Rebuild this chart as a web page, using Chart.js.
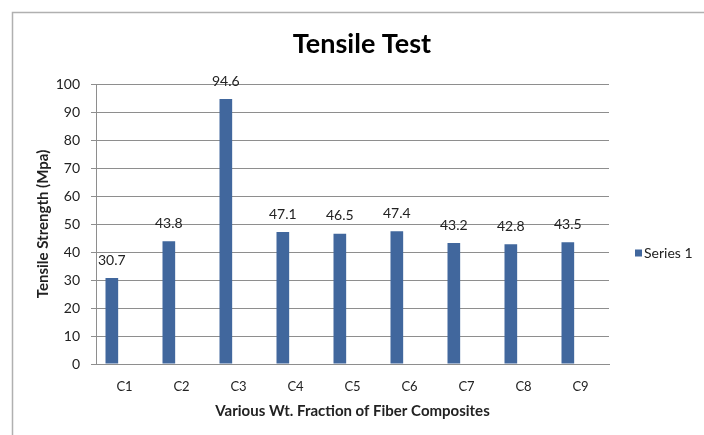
<!DOCTYPE html>
<html lang="en">
<head>
    <meta charset="UTF-8">
    <title>Tensile Test</title>
    <style>
        body {
            margin: 0;
            background: #fff;
        }
        .wrap {
            width: 704px;
            height: 435px;
        }
    </style>
    <script src="https://cdn.jsdelivr.net/npm/chart.js"></script>
</head>
<body>
    <div class="wrap"><canvas id="tensileChart" width="704" height="435"></canvas></div>

    <script>
        const categories = ['C1', 'C2', 'C3', 'C4', 'C5', 'C6', 'C7', 'C8', 'C9'];
        const series1 = [30.7, 43.8, 94.6, 47.1, 46.5, 47.4, 43.2, 42.8, 43.5];
        // the sheet has two more (empty) series, which is why bars sit left of centre
        const series2 = [];
        const series3 = [];
        const yTicks = [0, 10, 20, 30, 40, 50, 60, 70, 80, 90, 100];

        const FONT = 'Lato, "Open Sans", sans-serif';
        const barColor = '#41679d';
        const gridColor = '#8e8e8e';

        // frame, value labels and legend drawn by hand
        const extras = {
            id: 'extras',
            beforeDraw(chart) {
                const c = chart.ctx;
                c.save();
                c.strokeStyle = '#b0b0b0';
                c.lineWidth = 1.5;
                c.beginPath();
                c.moveTo(704, 12.5);
                c.lineTo(12.5, 12.5);
                c.lineTo(12.5, 435);
                c.stroke();
                c.restore();
            },
            afterDatasetsDraw(chart) {
                const c = chart.ctx;
                c.save();
                c.font = '14px ' + FONT;
                c.fillStyle = '#222';
                c.textAlign = 'center';
                c.textBaseline = 'middle';
                chart.getDatasetMeta(0).data.forEach((bar, i) => {
                    c.fillText(series1[i], bar.x, bar.y - 18);
                });

                // legend: only Series 1 shows
                const lx = 635, ly = 253;
                c.fillStyle = barColor;
                c.fillRect(lx, ly - 3.5, 7, 7);
                c.fillStyle = '#222';
                c.textAlign = 'left';
                c.fillText(chart.data.datasets[0].label, lx + 9, ly);
                c.restore();
            }
        };

        const ctx = document.getElementById('tensileChart').getContext('2d');
        new Chart(ctx, {
            type: 'bar',
            data: {
                labels: categories,
                datasets: [
                    { label: 'Series 1', data: series1, backgroundColor: barColor },
                    { label: 'Series 2', data: series2, backgroundColor: '#c0504d' },
                    { label: 'Series 3', data: series3, backgroundColor: '#9bbb59' }
                ]
            },
            options: {
                responsive: false,
                animation: false,
                categoryPercentage: 2 / 3,
                barPercentage: 1,
                layout: { padding: { top: 84, right: 95, bottom: 0, left: 0 } },
                plugins: {
                    legend: { display: false },
                    tooltip: { enabled: false },
                    title: {
                        display: false
                    }
                },
                scales: {
                    x: {
                        grid: { display: false, drawTicks: false },
                        border: { display: true, color: gridColor, width: 1 },
                        ticks: { font: { family: FONT, size: 13 }, color: '#222', padding: 15 },
                        title: {
                            display: true,
                            text: 'Various Wt. Fraction of Fiber Composites',
                            font: { family: FONT, size: 15, weight: 'bold' },
                            color: '#222',
                            padding: { top: 0, bottom: 15 }
                        },
                        afterFit(scale) { scale.height = 71; }
                    },
                    y: {
                        min: 0,
                        max: 100,
                        afterBuildTicks(scale) { scale.ticks = yTicks.map(v => ({ value: v })); },
                        grid: { color: gridColor, tickLength: 5, lineWidth: 1 },
                        border: { display: true, color: gridColor, width: 1 },
                        ticks: { font: { family: FONT, size: 14 }, color: '#222', padding: 11 },
                        title: {
                            display: true,
                            text: 'Tensile Strength (Mpa)',
                            font: { family: FONT, size: 15, weight: 'bold' },
                            color: '#222',
                            padding: { top: 34, bottom: 0 }
                        },
                        afterFit(scale) { scale.width = 96; }
                    }
                }
            },
            plugins: [extras, {
                id: 'heading',
                afterDraw(chart) {
                    const c = chart.ctx;
                    c.save();
                    c.font = 'bold 27px ' + FONT;
                    c.fillStyle = '#000';
                    c.textAlign = 'center';
                    c.textBaseline = 'middle';
                    c.fillText('Tensile Test', 362, 44);
                    c.restore();
                }
            }]
        });
    </script>
</body>
</html>
